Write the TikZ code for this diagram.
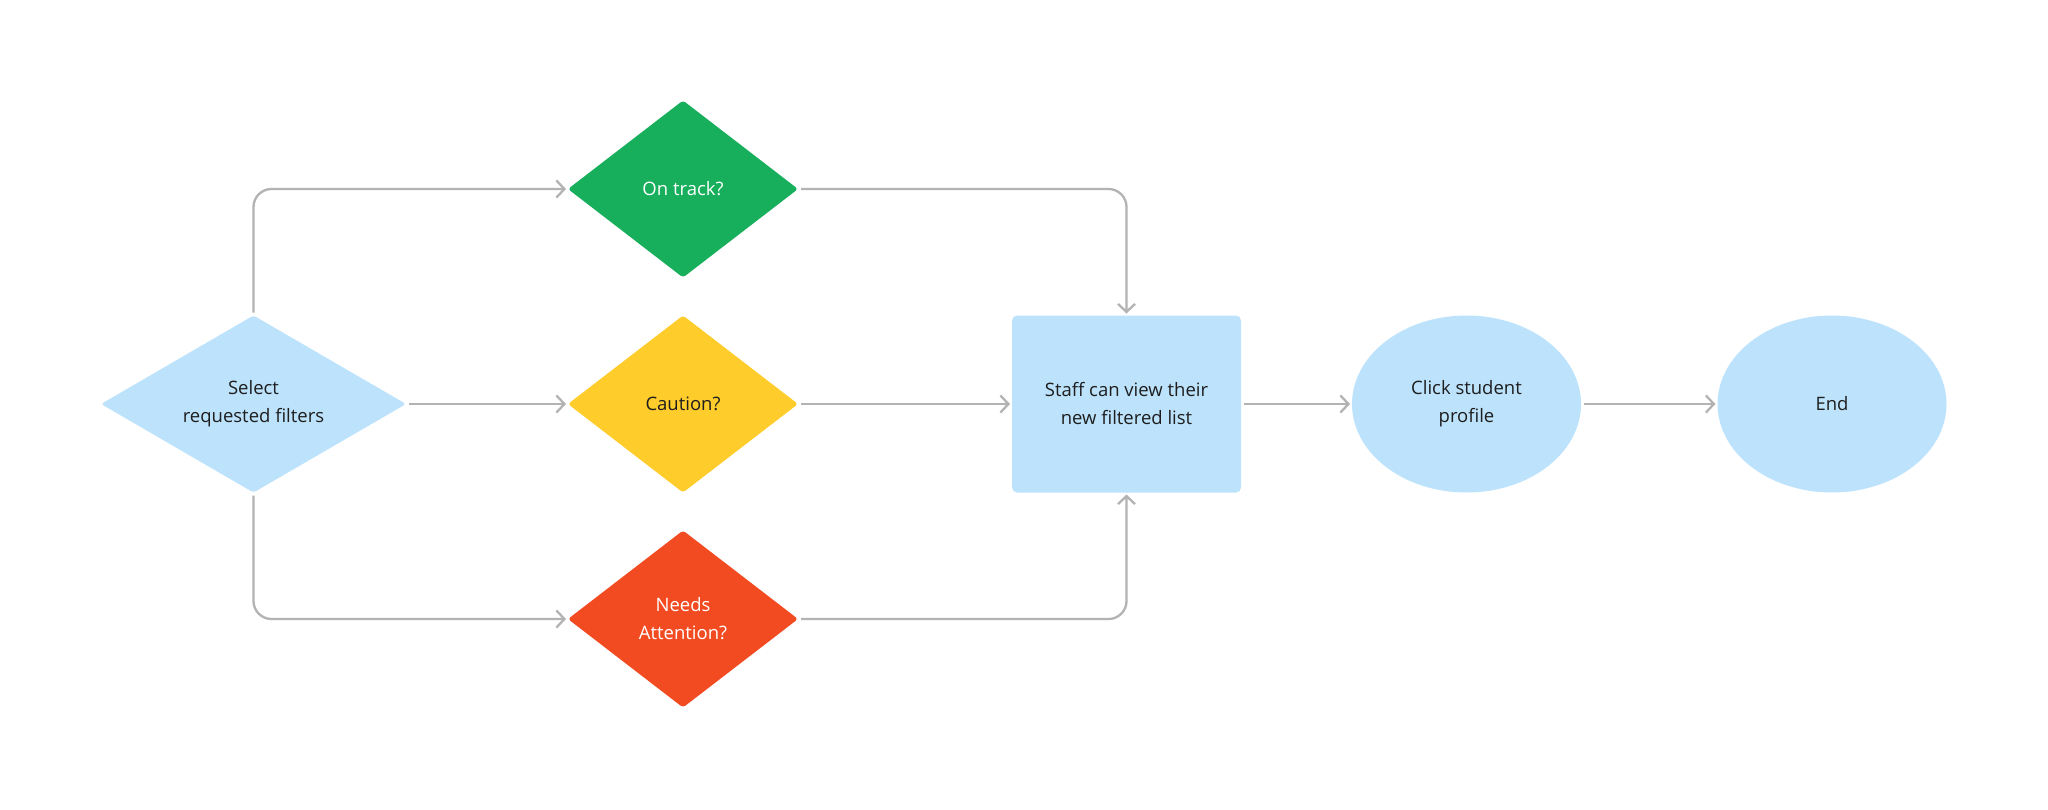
\documentclass[tikz,border=0pt]{standalone}
\usepackage{fontspec}
\setmainfont{Open Sans}
\usetikzlibrary{shapes.geometric,arrows.meta}
\definecolor{lblue}{HTML}{BDE3FC}
\definecolor{dgreen}{HTML}{17AE5C}
\definecolor{dyellow}{HTML}{FECC2B}
\definecolor{dred}{HTML}{F24B22}
\definecolor{conn}{HTML}{B3B3B3}
\definecolor{txt}{HTML}{1E1E1E}
\tikzset{
  base/.style={inner sep=0pt, outer sep=0pt, align=center, text=txt,
    font=\fontsize{18.5}{28}\selectfont},
  dia/.style={base, diamond, rounded corners=3pt, aspect=1.3,
    minimum width=230pt, minimum height=177pt},
  boxnode/.style={base, rectangle, rounded corners=5pt, fill=lblue,
    minimum width=229pt, minimum height=177pt},
  ell/.style={base, ellipse, fill=lblue, minimum width=229pt, minimum height=177pt},
  conn/.style={draw=conn, line width=2.3pt, rounded corners=18pt,
    -{Straight Barb[length=8pt,width=17pt,line width=2.3pt]},
    shorten >=2pt, shorten <=3pt},
}
\begin{document}
\begin{tikzpicture}[x=1pt,y=-1pt]
\useasboundingbox (0,0) rectangle (2048,809);
\fill[white] (0,0) rectangle (2048,809);
\node[dia, fill=lblue, aspect=1.72, minimum width=305pt, minimum height=177pt] (sel) at (253.5,404) {Select\\requested filters};
\node[dia, fill=dgreen, text=white] (on) at (683,189) {On track?};
\node[dia, fill=dyellow] (cau) at (683,404) {Caution?};
\node[dia, fill=dred, text=white] (need) at (683,619) {Needs\\Attention?};
\node[boxnode] (staff) at (1126.5,404) {Staff can view their\\new filtered list};
\node[ell] (click) at (1466.5,404) {Click student\\profile};
\node[ell] (end) at (1832,404) {End};
\draw[conn] (sel.north) |- (on.west);
\draw[conn] (sel.east) -- (cau.west);
\draw[conn] (sel.south) |- (need.west);
\draw[conn] (on.east) -| (staff.north);
\draw[conn] (cau.east) -- (staff.west);
\draw[conn] (need.east) -| (staff.south);
\draw[conn] (staff.east) -- (click.west);
\draw[conn] (click.east) -- (end.west);
\end{tikzpicture}
\end{document}
